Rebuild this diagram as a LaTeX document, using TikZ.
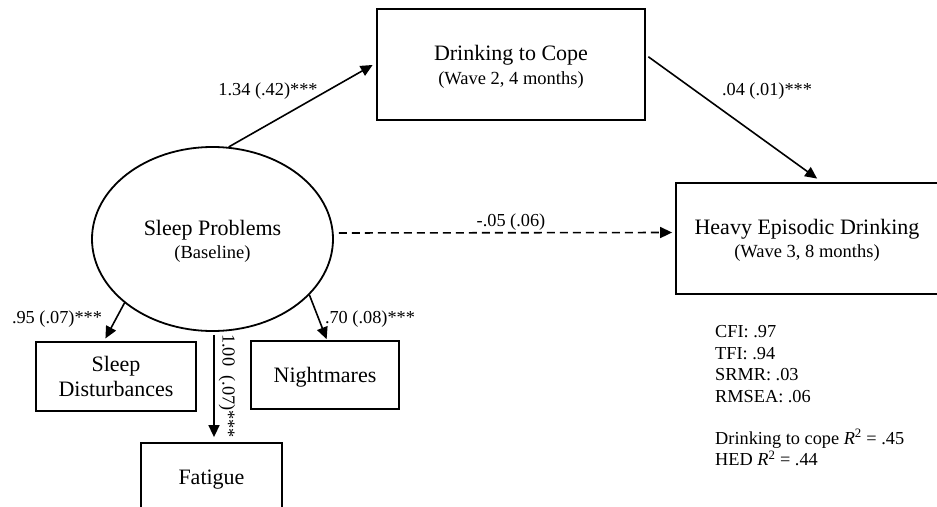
\documentclass[tikz,border=0pt]{standalone}
\usepackage{fontspec}
\setmainfont{Liberation Serif}
\usepackage{xcolor}
\usepackage{tikz}
\usetikzlibrary{shapes.geometric, arrows.meta, positioning}
\newcommand{\mainsz}{\fontsize{22}{25}\selectfont}
\newcommand{\subsz}{\fontsize{18.5}{23}\selectfont}
\newcommand{\coefsz}{\fontsize{18.3}{21.7}\selectfont}
\tikzset{
  box/.style={rectangle, draw=black, line width=1.8pt, inner sep=0pt, font=\mainsz, align=center, text depth=-6pt},
  twoline/.style={text depth=-10pt},
  latent/.style={ellipse, draw=black, line width=1.8pt, minimum width=241pt, minimum height=184pt, inner sep=0pt, font=\mainsz, align=center, twoline},
  coef/.style={font=\coefsz, inner sep=0pt},
  arrow/.style={-{Triangle[length=12pt,width=11pt]}, line width=1.6pt},
  dasharrow/.style={arrow, dash pattern=on 8pt off 5pt},
}

\begin{document}
\begin{tikzpicture}[x=1pt, y=-1pt]
  \useasboundingbox (0,0) rectangle (937,506);
  % Latent factor
  \node[latent] (sleep) at (212.5,239) {Sleep Problems\\[-2pt]\subsz(Baseline)};
  % Mediator and outcome
  \node[box, twoline, minimum width=268pt, minimum height=111pt] (cope) at (511,64.5) {Drinking to Cope\\[-1pt]\subsz(Wave 2, 4 months)};
  \node[box, twoline, minimum width=262pt, minimum height=111pt] (hed) at (807,238.5) {Heavy Episodic Drinking\\[-2pt]\subsz(Wave 3, 8 months)};
  % Indicators
  \node[box, minimum width=160pt, minimum height=69pt] (dist) at (116,376.5) {Sleep\\Disturbances};
  \node[box, minimum width=148pt, minimum height=68pt] (night) at (325,375) {Nightmares};
  \node[box, minimum width=141pt, minimum height=68pt] (fatigue) at (211.5,477) {Fatigue};

  % Structural paths
  \draw[arrow, shorten >=4pt] (sleep.80) -- ([yshift=1.5pt]cope.west);
  \draw[arrow, shorten <=3pt, shorten >=6pt] ([yshift=9.5pt]cope.east) -- ([xshift=15pt]hed.north);
  \draw[dasharrow, shorten <=5pt, shorten >=3pt] ([yshift=6pt]sleep.east) -- ([yshift=6pt]hed.west);
  % Loadings
  \draw[arrow, shorten >=3pt] (sleep.216) -- ([xshift=-12pt]dist.north);
  \draw[arrow, shorten >=1pt] (sleep.330) -- ([xshift=2pt]night.north);
  \draw[arrow, shorten <=3pt, shorten >=5pt] ([xshift=1.5pt]sleep.south) -- ([xshift=2.5pt]fatigue.north);

  % Coefficients
  \node[coef] (b1) at (268,91) {1.34 (.42)***};
  \node[coef] (b2) at (767,91) {.04 (.01)***};
  \node[coef] (b3) at (511,222) {-.05 (.06)};
  \node[coef] (l1) at (57,319) {.95 (.07)***};
  \node[coef] (l2) at (370,319) {.70 (.08)***};
  \node[coef, rotate=-90] (l3) at (227,386) {1.00\ \ (.07)***};

  % Fit statistics
  \node[coef, anchor=north west, align=left] (fit) at (715,325) {CFI: .97\\TFI: .94\\SRMR: .03\\RMSEA: .06\\[20pt]Drinking to cope \textit{R}\textsuperscript{2} = .45\\HED \textit{R}\textsuperscript{2} = .44};
\end{tikzpicture}
\end{document}
